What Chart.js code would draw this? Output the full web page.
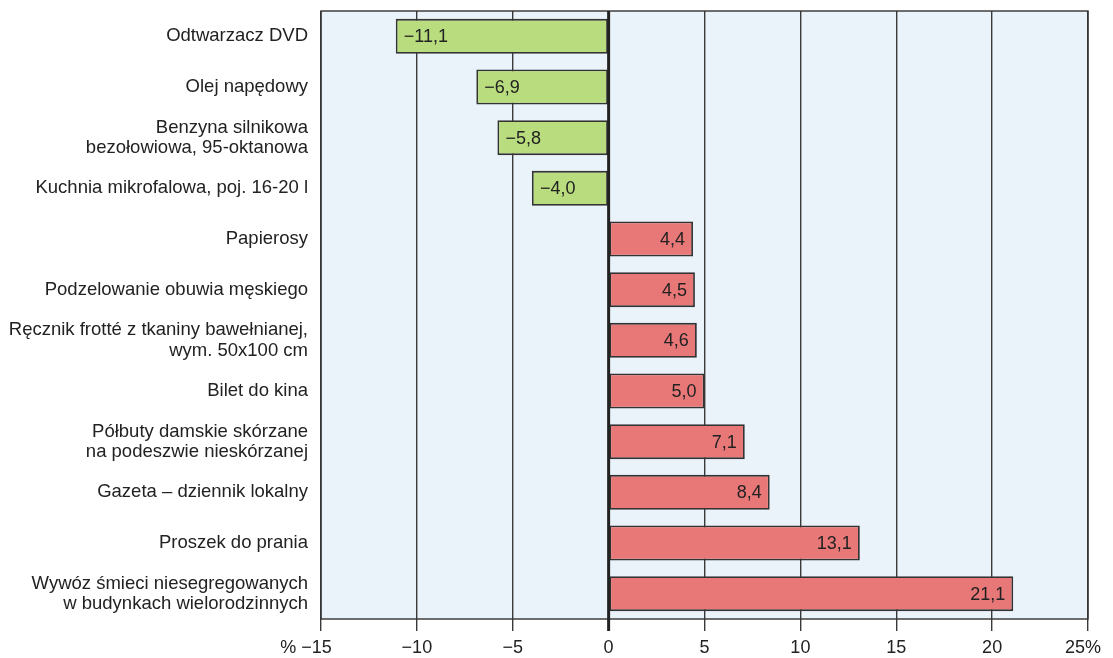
<!DOCTYPE html>
<html>
<head>
<meta charset="utf-8">
<script src="https://cdn.jsdelivr.net/npm/chart.js@4"></script>
<style>
    body { margin: 0; background: #fff; }
    #wrap { width: 1113px; height: 658px; }
</style>
</head>
<body>
<div id="wrap"><canvas id="chart"></canvas></div>
<script>
const categories = [
    'Odtwarzacz DVD',
    'Olej napędowy',
    ['Benzyna silnikowa', 'bezołowiowa, 95-oktanowa'],
    'Kuchnia mikrofalowa, poj. 16-20 l',
    'Papierosy',
    'Podzelowanie obuwia męskiego',
    ['Ręcznik frotté z tkaniny bawełnianej,', 'wym. 50x100 cm'],
    'Bilet do kina',
    ['Półbuty damskie skórzane', 'na podeszwie nieskórzanej'],
    'Gazeta – dziennik lokalny',
    'Proszek do prania',
    ['Wywóz śmieci niesegregowanych', 'w budynkach wielorodzinnych']
];
const changes = [-11.1, -6.9, -5.8, -4.0, 4.4, 4.5, 4.6, 5.0, 7.1, 8.4, 13.1, 21.1];
const xTicks = [-15, -10, -5, 0, 5, 10, 15, 20, 25];

const GREEN = '#b8dc7e';
const RED = '#e87777';
const FONT = "'Liberation Sans', Arial, sans-serif";

const fmt = v => v.toFixed(1).replace('.', ',').replace('-', '\u2212');

// light blue plot background + frame
const framePlugin = {
    id: 'frame',
    beforeDraw(chart) {
        const { ctx, chartArea: a } = chart;
        ctx.save();
        ctx.fillStyle = '#eaf3fa';
        ctx.fillRect(a.left, a.top, a.right - a.left, a.bottom - a.top);
        ctx.restore();
    },
    afterDatasetsDraw(chart) {
        const { ctx, chartArea: a, scales } = chart;
        ctx.save();
        ctx.strokeStyle = '#333';
        ctx.lineWidth = 1.4;
        ctx.strokeRect(a.left, a.top, a.right - a.left, a.bottom - a.top);
        // zero line on top of bars
        const x0 = scales.x.getPixelForValue(0);
        ctx.lineWidth = 3;
        ctx.strokeStyle = '#222';
        ctx.beginPath();
        ctx.moveTo(x0, a.top);
        ctx.lineTo(x0, a.bottom + 12);
        ctx.stroke();

        // value labels inside bars
        ctx.font = '18px ' + FONT;
        ctx.fillStyle = '#222';
        ctx.textBaseline = 'middle';
        chart.getDatasetMeta(0).data.forEach((bar, i) => {
            const v = changes[i];
            if (v < 0) {
                ctx.textAlign = 'left';
                ctx.fillText(fmt(v), bar.x + 8, bar.y + 1);
            } else {
                ctx.textAlign = 'right';
                ctx.fillText(fmt(v), bar.x - 8, bar.y + 1);
            }
        });
        ctx.restore();
    }
};

new Chart(document.getElementById('chart'), {
    type: 'bar',
    data: {
        labels: categories,
        datasets: [{
            data: changes,
            backgroundColor: changes.map(v => v < 0 ? GREEN : RED),
            borderColor: '#333',
            borderWidth: 1.8,
            borderSkipped: false,
            categoryPercentage: 1,
            barPercentage: 0.69
        }]
    },
    options: {
        indexAxis: 'y',
        responsive: true,
        maintainAspectRatio: false,
        animation: false,
        layout: { padding: { top: 11, right: 25, left: 0, bottom: 0 } },
        plugins: {
            legend: { display: false },
            tooltip: { enabled: false }
        },
        scales: {
            x: {
                min: -15,
                max: 25,
                afterBuildTicks: s => { s.ticks = xTicks.map(v => ({ value: v })); },
                afterFit: s => {
                    s.height = 39;
                    s.paddingLeft = 0;
                    s.paddingRight = 0;
                },
                grid: {
                    color: '#3a3a3a',
                    lineWidth: 1.4,
                    tickLength: 12,
                    drawOnChartArea: true
                },
                border: { display: false },
                ticks: {
                    color: '#222',
                    padding: 6,
                    font: { family: FONT, size: 18 },
                    callback: v => {
                        const s = String(v).replace('-', '\u2212');
                        if (v === -15) return '% ' + s + '      ';
                        if (v === 25) return s + '%  ';
                        return s;
                    }
                }
            },
            y: {
                afterFit: s => {
                    s.width = 321;
                    s.paddingTop = 0;
                    s.paddingBottom = 0;
                },
                grid: { display: false },
                border: { display: false },
                ticks: {
                    color: '#222',
                    padding: 5,
                    font: { family: FONT, size: 18.5, lineHeight: 1.1 }
                }
            }
        }
    },
    plugins: [framePlugin]
});
</script>
</body>
</html>
